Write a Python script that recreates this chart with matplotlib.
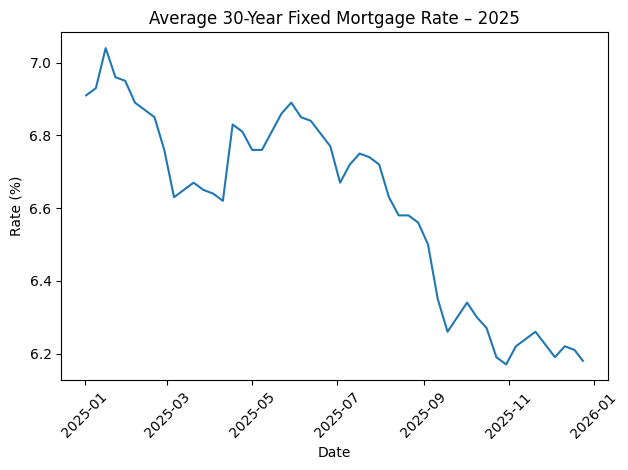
import matplotlib
matplotlib.use("Agg")
import pandas as pd
import matplotlib.pyplot as plt

dates = ["2025-01-02", "2025-01-09", "2025-01-16", "2025-01-23", "2025-01-30",
         "2025-02-06", "2025-02-13", "2025-02-20", "2025-02-27",
         "2025-03-06", "2025-03-13", "2025-03-20", "2025-03-27",
         "2025-04-03", "2025-04-10", "2025-04-17", "2025-04-24",
         "2025-05-01", "2025-05-08", "2025-05-15", "2025-05-22", "2025-05-29",
         "2025-06-05", "2025-06-12", "2025-06-18", "2025-06-26",
         "2025-07-03", "2025-07-10", "2025-07-17", "2025-07-24", "2025-07-31",
         "2025-08-07", "2025-08-14", "2025-08-21", "2025-08-28",
         "2025-09-04", "2025-09-11", "2025-09-18", "2025-09-25",
         "2025-10-02", "2025-10-09", "2025-10-16", "2025-10-23", "2025-10-30",
         "2025-11-06", "2025-11-13", "2025-11-20", "2025-11-26",
         "2025-12-04", "2025-12-11", "2025-12-18", "2025-12-24"]

rates = [6.91, 6.93, 7.04, 6.96, 6.95,
         6.89, 6.87, 6.85, 6.76,
         6.63, 6.65, 6.67, 6.65,
         6.64, 6.62, 6.83, 6.81,
         6.76, 6.76, 6.81, 6.86, 6.89,
         6.85, 6.84, 6.81, 6.77,
         6.67, 6.72, 6.75, 6.74, 6.72,
         6.63, 6.58, 6.58, 6.56,
         6.50, 6.35, 6.26, 6.30,
         6.34, 6.30, 6.27, 6.19, 6.17,
         6.22, 6.24, 6.26, 6.23,
         6.19, 6.22, 6.21, 6.18]

df = pd.DataFrame({"date": pd.to_datetime(dates), "rate": rates})

fig, ax = plt.subplots(figsize=(6.28, 4.7), dpi=100)
ax.plot(df["date"], df["rate"])

ax.set_title("Average 30-Year Fixed Mortgage Rate \u2013 2025")
ax.set_xlabel("Date")
ax.set_ylabel("Rate (%)")
plt.xticks(rotation=45)

# match the reference's axes box
plt.subplots_adjust(left=0.0976, right=0.9677, top=0.9313, bottom=0.1909)
plt.savefig("out.png")
